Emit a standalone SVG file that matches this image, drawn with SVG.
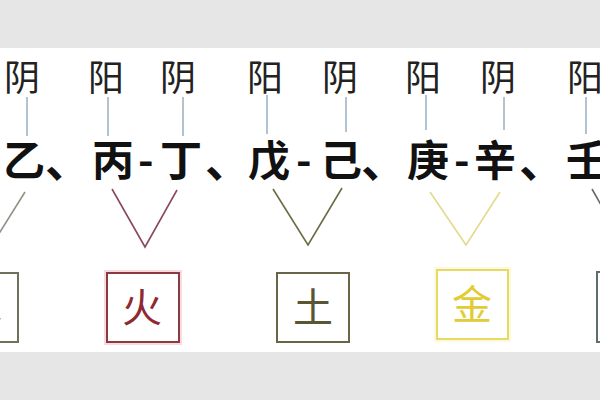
<svg xmlns="http://www.w3.org/2000/svg" width="600" height="400" viewBox="0 0 600 400">
<style>
.band{fill:#e6e6e6}
.yy{font-family:"Noto Sans CJK SC","Noto Sans CJK JP",sans-serif;font-size:36px;fill:#222;text-anchor:middle}
.gan{font-family:"Noto Sans CJK SC","Noto Sans CJK JP",sans-serif;font-size:42px;font-weight:700;fill:#111}
.dun{font-size:46px}
.tick{stroke:#9fb3c2;stroke-width:1.6;fill:none}
.v{fill:none;stroke-width:1.6}
.box{fill:#fff;stroke-width:2}
.glow{fill:none;stroke-width:6;stroke-opacity:0.18}
.el{font-family:"Noto Sans CJK SC","Noto Sans CJK JP",sans-serif;font-size:40px;text-anchor:middle}
</style>
<rect width="600" height="400" fill="#fff"/>
<rect class="band" x="0" y="0" width="600" height="48"/>
<rect class="band" x="0" y="352" width="600" height="48"/>

<g id="labels">
<text class="yy" x="22" y="91">阴</text>
<text class="yy" x="106" y="91">阳</text>
<text class="yy" x="178" y="91">阴</text>
<text class="yy" x="265" y="91">阳</text>
<text class="yy" x="340" y="91">阴</text>
<text class="yy" x="423" y="91">阳</text>
<text class="yy" x="498" y="91">阴</text>
<text class="yy" x="585" y="91">阳</text>
</g>

<g id="stems">
<text class="gan" x="3" y="176">乙</text>
<text class="gan dun" x="45" y="177">、</text>
<text class="gan" x="92" y="176">丙</text>
<text class="gan" x="138" y="176">-</text>
<text class="gan" x="160" y="176">丁</text>
<text class="gan dun" x="205" y="177">、</text>
<text class="gan" x="248" y="176">戊</text>
<text class="gan" x="296" y="176">-</text>
<text class="gan" x="320" y="176">己</text>
<text class="gan dun" x="361" y="177">、</text>
<text class="gan" x="407" y="176">庚</text>
<text class="gan" x="454" y="176">-</text>
<text class="gan" x="474" y="176">辛</text>
<text class="gan dun" x="519" y="177">、</text>
<text class="gan" x="566" y="176">壬</text>
</g>

<g id="connectors">
<line class="tick" x1="27" y1="97" x2="27" y2="136"/>
<line class="tick" x1="108" y1="97" x2="108" y2="136"/>
<line class="tick" x1="183" y1="97" x2="183" y2="136"/>
<line class="tick" x1="267" y1="95" x2="267" y2="134"/>
<line class="tick" x1="346" y1="97" x2="346" y2="132"/>
<line class="tick" x1="426" y1="95" x2="426" y2="130"/>
<line class="tick" x1="504" y1="97" x2="504" y2="130"/>
<line class="tick" x1="586" y1="97" x2="586" y2="134"/>
<polyline class="v" stroke="#8d9284" points="25,192 -10,248 -45,190"/>
<polyline class="v" stroke="#8a4a5a" points="112,189 145,247 177,190"/>
<polyline class="v" stroke="#6b6a42" points="273,189 308,245 342,188"/>
<polyline class="v" stroke="#e4da8e" points="430,192 466,245 500,192"/>
<polyline class="v" stroke="#6a6a6a" points="592,189 625,247 660,190"/>
</g>

<g id="wood">
<rect class="box" x="-54" y="273" width="72" height="69" stroke="#6f705e"/>
<text class="el" x="-18" y="322" fill="#5f6b48">木</text>
</g>
<g id="fire">
<rect class="glow" x="107" y="273" width="72" height="69" stroke="#e03040"/>
<rect class="box" x="107" y="273" width="72" height="69" stroke="#8a3a42"/>
<text class="el" x="142" y="322" fill="#8e2a30">火</text>
</g>
<g id="earth">
<rect class="box" x="277" y="273" width="72" height="69" stroke="#6a6548"/>
<text class="el" x="313" y="322" fill="#5a5535">土</text>
</g>
<g id="metal">
<rect class="glow" x="437" y="270" width="71" height="69" stroke="#f0e040"/>
<rect class="box" x="437" y="270" width="71" height="69" stroke="#e6da64"/>
<text class="el" x="472" y="319" fill="#e2cc36">金</text>
</g>
<g id="water">
<rect class="box" x="597" y="272" width="72" height="70" stroke="#5f6d72"/>
<text class="el" x="633" y="321" fill="#4f6a78">水</text>
</g>
</svg>
